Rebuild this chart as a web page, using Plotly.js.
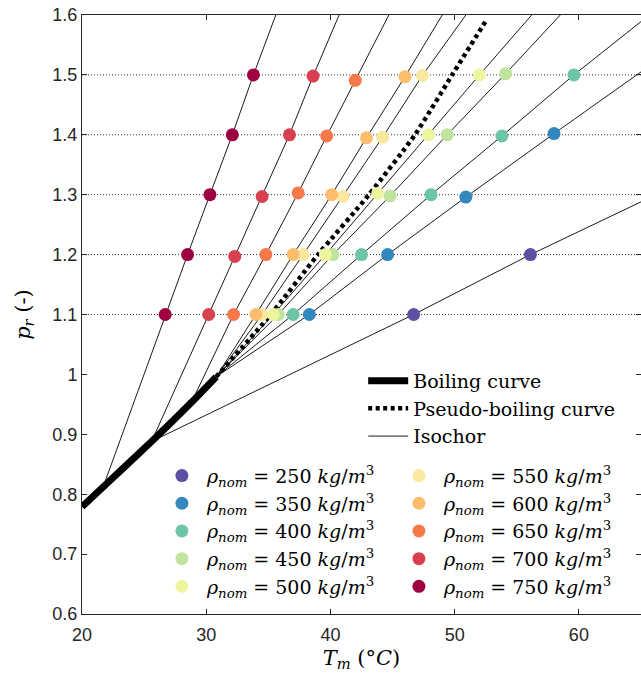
<!DOCTYPE html>
<html><head><meta charset="utf-8">
<script src="https://cdn.plot.ly/plotly-3.0.1.min.js"></script>
<style>html,body{margin:0;padding:0;background:#fff;} #chart{width:641px;height:681px;}</style>
</head><body><div id="chart"></div>
<script>
// ---- data ----
const densities = [250, 350, 400, 450, 500, 550, 600, 650, 700, 750];
const colors = ['#5e4fa2', '#3288bd', '#6cc5a5', '#bfe49d', '#eef59f', '#f9e8a0', '#fdbd6c', '#f7794a', '#d8404f', '#9e0142'];
const pressureLevels = [1.1, 1.2, 1.3, 1.4, 1.5];

// measured temperatures (°C) at each reduced pressure level, per nominal density
const T250 = [46.7, 56.1, null, null, null];
const T350 = [38.3, 44.6, 50.9, 58.0, null];
const T400 = [37.0, 42.5, 48.1, 53.8, 59.6];
const T450 = [35.8, 40.2, 44.8, 49.4, 54.1];
const T500 = [35.4, 39.6, 43.8, 47.9, 52.0];
const T550 = [34.5, 37.8, 41.0, 44.2, 47.4];
const T600 = [34.0, 37.0, 40.1, 42.9, 46.0];
const T650 = [32.2, 34.8, 37.4, 39.7, 42.0];
const T700 = [30.2, 32.3, 34.5, 36.7, 38.6];
const T750 = [26.7, 28.5, 30.3, 32.1, 33.8];

// measured reduced pressures of those points
const P250 = [1.1, 1.2, null, null, null];
const P350 = [1.1, 1.2, 1.296, 1.402, null];
const P400 = [1.1, 1.2, 1.3, 1.398, 1.5];
const P450 = [1.1, 1.2, 1.298, 1.4, 1.502];
const P500 = [1.1, 1.2, 1.302, 1.4, 1.5];
const P550 = [1.1, 1.2, 1.297, 1.396, 1.499];
const P600 = [1.1, 1.2, 1.3, 1.395, 1.497];
const P650 = [1.1, 1.2, 1.303, 1.398, 1.491];
const P700 = [1.1, 1.197, 1.297, 1.4, 1.498];
const P750 = [1.1, 1.2, 1.3, 1.4, 1.5];

const pointT = [T250, T350, T400, T450, T500, T550, T600, T650, T700, T750];
const pointP = [P250, P350, P400, P450, P500, P550, P600, P650, P700, P750];

// isochor line ends (start on the boiling curve, end at the plot border)
const isoStartT = [25.6, 30.8, 30.8, 30.8, 30.8, 30.8, 30.8, 28.8, 25.6, 21.7];
const isoStartP = [0.888, 0.996, 0.996, 0.996, 0.996, 0.996, 0.996, 0.953, 0.888, 0.812];
const isoEndT = [65, 65, 65, 58.5, 56.2, 50.9, 49.0, 44.7, 40.7, 35.6];
const isoEndP = [1.288, 1.505, 1.589, 1.6, 1.6, 1.6, 1.6, 1.6, 1.6, 1.6];

// boiling curve and pseudo-boiling curve
const boilT = [20, 21.7, 25.6, 28.8, 30.8];
const boilP = [0.779, 0.812, 0.888, 0.953, 0.996];
const pseudoT = [30.8, 35.2, 39.0, 43.1, 46.8, 49.8, 52.6];
const pseudoP = [0.996, 1.1, 1.2, 1.3, 1.4, 1.5, 1.593];

const xRange = [20, 65];
const yRange = [0.6, 1.6];
const xTicks = [20, 30, 40, 50, 60];

// ---- traces ----
const traces = [];
const serif = 'DejaVu Serif, serif';

// horizontal dotted reference lines
pressureLevels.forEach(p => {
  traces.push({x: xRange, y: [p, p], mode: 'lines', showlegend: false, hoverinfo: 'skip',
    line: {color: '#333', width: 1, dash: '1px,2px'}});
});

// isochors
densities.forEach((d, i) => {
  const xs = [isoStartT[i]], ys = [isoStartP[i]];
  pointT[i].forEach((t, k) => { if (t !== null) { xs.push(t); ys.push(pointP[i][k]); } });
  xs.push(isoEndT[i]); ys.push(isoEndP[i]);
  traces.push({x: xs, y: ys, mode: 'lines', name: 'Isochor', legend: 'legend',
    showlegend: i === 0, legendrank: 3, line: {color: '#000', width: 0.9}, hoverinfo: 'skip'});
});

traces.push({x: boilT, y: boilP, mode: 'lines', name: 'Boiling curve', legend: 'legend', legendrank: 1,
  line: {color: '#000', width: 7, shape: 'spline', smoothing: 0.6}});
traces.push({x: pseudoT, y: pseudoP, mode: 'lines', name: 'Pseudo-boiling curve', legend: 'legend', legendrank: 2,
  line: {color: '#000', width: 4.5, dash: '4px,3.5px', shape: 'spline', smoothing: 0.6}});

// markers
densities.forEach((d, i) => {
  traces.push({x: pointT[i], y: pointP[i], mode: 'markers',
    name: '<i>ρ</i><sub><i>nom</i></sub> = ' + d + ' <i>kg</i>/<i>m</i><sup>3</sup>',
    legend: i < 5 ? 'legend2' : 'legend3', legendrank: i,
    marker: {color: colors[i], size: 13, line: {width: 0}}});
});

const axisCommon = {showline: true, linecolor: '#262626', linewidth: 1, mirror: 'ticks',
  ticks: 'inside', ticklen: 5, tickcolor: '#262626', showgrid: false, zeroline: false,
  tickfont: {family: 'Liberation Sans, Arial, sans-serif', size: 18, color: '#262626'}};

const legendCommon = {xanchor: 'left', yanchor: 'top', bgcolor: 'rgba(0,0,0,0)', borderwidth: 0,
  font: {family: serif, size: 19, color: '#000'}, tracegroupgap: 0, traceorder: 'normal', itemwidth: 40};

const layout = {
  width: 641, height: 681,
  margin: {l: 82, r: 0, t: 15, b: 67},
  paper_bgcolor: '#fff', plot_bgcolor: '#fff',
  xaxis: Object.assign({}, axisCommon, {range: xRange, tickvals: xTicks, ticklabelstandoff: 4,
    title: {text: '<i>T</i><sub><i>m</i></sub> (°<i>C</i>)', font: {family: serif, size: 21, color: '#000'}, standoff: 6}}),
  yaxis: Object.assign({}, axisCommon, {range: yRange, dtick: 0.1, tick0: 0.6,
    title: {text: '<i>p</i><sub><i>r</i></sub> (-)', font: {family: serif, size: 21, color: '#000'}, standoff: 16}}),
  legend: Object.assign({}, legendCommon, {x: 0.503, y: 0.421}),
  legend2: Object.assign({}, legendCommon, {x: 0.134, y: 0.2626}),
  legend3: Object.assign({}, legendCommon, {x: 0.558, y: 0.2626}),
  showlegend: true
};

Plotly.newPlot('chart', traces, layout, {staticPlot: true, displayModeBar: false});
</script>
</body></html>
